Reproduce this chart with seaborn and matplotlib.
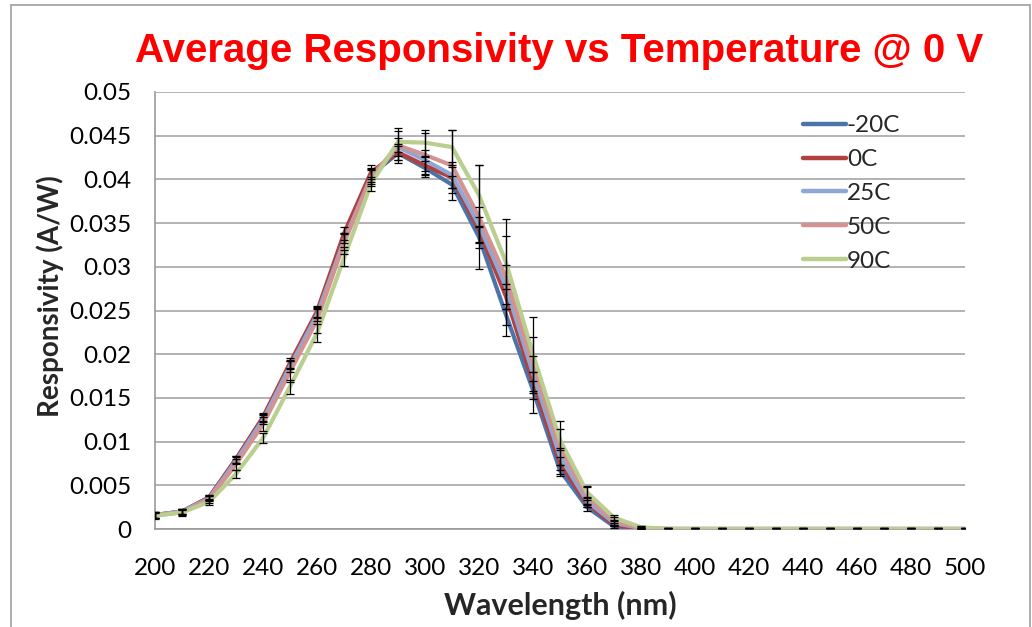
import matplotlib
matplotlib.use("Agg")
import matplotlib.pyplot as plt
from matplotlib.lines import Line2D
import seaborn as sns
import pandas as pd
import numpy as np

# ---------------- data ----------------
wavelength = list(range(200, 501, 10))

series_names = ["-20C", "0C", "25C", "50C", "90C"]

resp_m20 = [0.0016, 0.0020, 0.0036, 0.0080, 0.0127, 0.0188, 0.0247, 0.0333, 0.0405, 0.0430,
            0.0413, 0.0394, 0.0334, 0.0245, 0.0159, 0.0067, 0.0025, 0.0003, 0.0, 0.0,
            0.0, 0.0, 0.0, 0.0, 0.0, 0.0, 0.0, 0.0, 0.0, 0.0, 0.0]
resp_0 = [0.0016, 0.0020, 0.0036, 0.0080, 0.0128, 0.0190, 0.0249, 0.0338, 0.0408, 0.0431,
          0.0416, 0.0402, 0.0342, 0.0266, 0.0168, 0.0075, 0.0029, 0.0005, 0.0, 0.0,
          0.0, 0.0, 0.0, 0.0, 0.0, 0.0, 0.0, 0.0, 0.0, 0.0, 0.0]
resp_25 = [0.0016, 0.0020, 0.0035, 0.0078, 0.0125, 0.0186, 0.0245, 0.0330, 0.0403, 0.0437,
           0.0422, 0.0405, 0.0348, 0.0277, 0.0178, 0.0083, 0.0032, 0.0007, 0.0001, 0.0,
           0.0, 0.0, 0.0, 0.0, 0.0, 0.0, 0.0, 0.0, 0.0, 0.0, 0.0]
resp_50 = [0.0016, 0.0019, 0.0034, 0.0074, 0.0120, 0.0180, 0.0239, 0.0327, 0.0402, 0.0439,
           0.0428, 0.0416, 0.0357, 0.0288, 0.0188, 0.0093, 0.0037, 0.0009, 0.0001, 0.0,
           0.0, 0.0, 0.0, 0.0, 0.0, 0.0, 0.0, 0.0, 0.0, 0.0, 0.0]
resp_90 = [0.0015, 0.0019, 0.0031, 0.0063, 0.0104, 0.0163, 0.0224, 0.0310, 0.0395, 0.0443,
           0.0442, 0.0437, 0.0382, 0.0305, 0.0200, 0.0102, 0.0042, 0.0013, 0.0002, 0.0,
           0.0, 0.0, 0.0, 0.0, 0.0, 0.0, 0.0, 0.0, 0.0, 0.0, 0.0]

err_m20 = [0.0003, 0.0003, 0.0003, 0.0004, 0.0005, 0.0005, 0.0006, 0.0006, 0.0008, 0.0008,
           0.0008, 0.0010, 0.0012, 0.0012, 0.0010, 0.0006, 0.0004, 0.0002, 0.0001, 0.0001,
           0.0001, 0.0001, 0.0001, 0.0001, 0.0001, 0.0001, 0.0001, 0.0001, 0.0001, 0.0001, 0.0001]
err_0 = [0.0003, 0.0003, 0.0003, 0.0004, 0.0005, 0.0006, 0.0006, 0.0007, 0.0008, 0.0009,
         0.0010, 0.0012, 0.0015, 0.0014, 0.0012, 0.0007, 0.0004, 0.0002, 0.0001, 0.0001,
         0.0001, 0.0001, 0.0001, 0.0001, 0.0001, 0.0001, 0.0001, 0.0001, 0.0001, 0.0001, 0.0001]
err_25 = [0.0003, 0.0003, 0.0003, 0.0004, 0.0005, 0.0006, 0.0007, 0.0007, 0.0008, 0.0010,
          0.0012, 0.0015, 0.0020, 0.0025, 0.0020, 0.0010, 0.0005, 0.0002, 0.0001, 0.0001,
          0.0001, 0.0001, 0.0001, 0.0001, 0.0001, 0.0001, 0.0001, 0.0001, 0.0001, 0.0001, 0.0001]
err_50 = [0.0003, 0.0004, 0.0004, 0.0006, 0.0008, 0.0012, 0.0015, 0.0012, 0.0010, 0.0020,
          0.0025, 0.0040, 0.0060, 0.0067, 0.0055, 0.0030, 0.0012, 0.0005, 0.0002, 0.0001,
          0.0001, 0.0001, 0.0001, 0.0001, 0.0001, 0.0001, 0.0001, 0.0001, 0.0001, 0.0001, 0.0001]
err_90 = [0.0003, 0.0003, 0.0003, 0.0005, 0.0006, 0.0008, 0.0010, 0.0009, 0.0008, 0.0012,
          0.0015, 0.0020, 0.0035, 0.0030, 0.0020, 0.0012, 0.0006, 0.0003, 0.0001, 0.0001,
          0.0001, 0.0001, 0.0001, 0.0001, 0.0001, 0.0001, 0.0001, 0.0001, 0.0001, 0.0001, 0.0001]

colors = ["#4A74AA", "#B2403E", "#8DA8D5", "#D49292", "#B9CE8F"]

x_ticks = list(range(200, 501, 20))
y_ticks = [0, 0.005, 0.01, 0.015, 0.02, 0.025, 0.03, 0.035, 0.04, 0.045, 0.05]
y_tick_labels = ["0", "0.005", "0.01", "0.015", "0.02", "0.025", "0.03", "0.035", "0.04", "0.045", "0.05"]

# ---------------- build table ----------------
all_resp = [resp_m20, resp_0, resp_25, resp_50, resp_90]
all_err = [err_m20, err_0, err_25, err_50, err_90]
rows = []
for name, vals, errs in zip(series_names, all_resp, all_err):
    for w, v, e in zip(wavelength, vals, errs):
        rows.append({"Wavelength": w, "Responsivity": v, "err": e, "Series": name})
df = pd.DataFrame(rows)

# ---------------- plot ----------------
sns.set_style("white")
plt.rcParams["font.family"] = ["Lato", "DejaVu Sans"]

fig = plt.figure(figsize=(10.32, 6.27), dpi=100)
ax = fig.add_axes([155 / 1032, 1 - 529 / 627, 810 / 1032, 437 / 627])

sns.lineplot(data=df, x="Wavelength", y="Responsivity", hue="Series",
             hue_order=series_names, palette=dict(zip(series_names, colors)),
             linewidth=3.0, ax=ax, legend=False, zorder=3)

for name in series_names:
    sub = df[df["Series"] == name]
    ax.errorbar(sub["Wavelength"], sub["Responsivity"], yerr=sub["err"], fmt="none",
                ecolor="black", elinewidth=0.9, capsize=3, capthick=0.9, zorder=4)

ax.set_xlim(200, 500)
ax.set_ylim(0, 0.05)
ax.set_xticks(x_ticks)
ax.set_xticklabels([str(t) for t in x_ticks])
ax.set_yticks(y_ticks)
ax.set_yticklabels(y_tick_labels)

ax.yaxis.grid(True, color="#A6A6A6", linewidth=1.2)
ax.xaxis.grid(False)
for s in ["top", "right"]:
    ax.spines[s].set_visible(False)
for s in ["left", "bottom"]:
    ax.spines[s].set_color("#9A9A9A")
    ax.spines[s].set_linewidth(1.2)

ax.tick_params(axis="both", which="major", direction="out", length=5, width=1.1,
               color="#9A9A9A", labelsize=17.5, labelcolor="black")
ax.tick_params(axis="x", pad=16)
ax.tick_params(axis="y", pad=12)

ax.set_xlabel("Wavelength (nm)", fontsize=22, fontweight="bold")
ax.set_ylabel("Responsivity (A/W)", fontsize=20, fontweight="bold")
ax.xaxis.label.set_va("center")
ax.xaxis.set_label_coords(0.5, -0.176)
ax.yaxis.label.set_va("center")
ax.yaxis.label.set_ha("center")
ax.yaxis.set_label_coords(-0.129, 0.532)

fig.text(559 / 1032, 1 - 62 / 627, "Average Responsivity vs Temperature @ 0 V",
         ha="center", va="baseline", color="#FF0000", fontsize=29, fontweight="bold",
         family=["Liberation Sans", "DejaVu Sans"])

handles = [Line2D([0], [0], color=c, lw=3.2) for c in colors]
ax.legend(handles, series_names, loc="upper left", bbox_to_anchor=(0.80, 0.947),
          frameon=False, fontsize=17.5, handlelength=1.75, handletextpad=0.05,
          labelspacing=0.53, borderaxespad=0, borderpad=0)

# outer frame of the chart
fig.add_artist(Line2D([11 / 1032, 11 / 1032], [0, 1 - 5 / 627], transform=fig.transFigure,
                      color="#A0A0A0", lw=1.2))
fig.add_artist(Line2D([11 / 1032, 1030 / 1032], [1 - 5 / 627, 1 - 5 / 627], transform=fig.transFigure,
                      color="#A0A0A0", lw=1.2))
fig.add_artist(Line2D([1030 / 1032, 1030 / 1032], [0, 1 - 5 / 627], transform=fig.transFigure,
                      color="#A0A0A0", lw=1.2))

fig.savefig("out.png", dpi=100)
